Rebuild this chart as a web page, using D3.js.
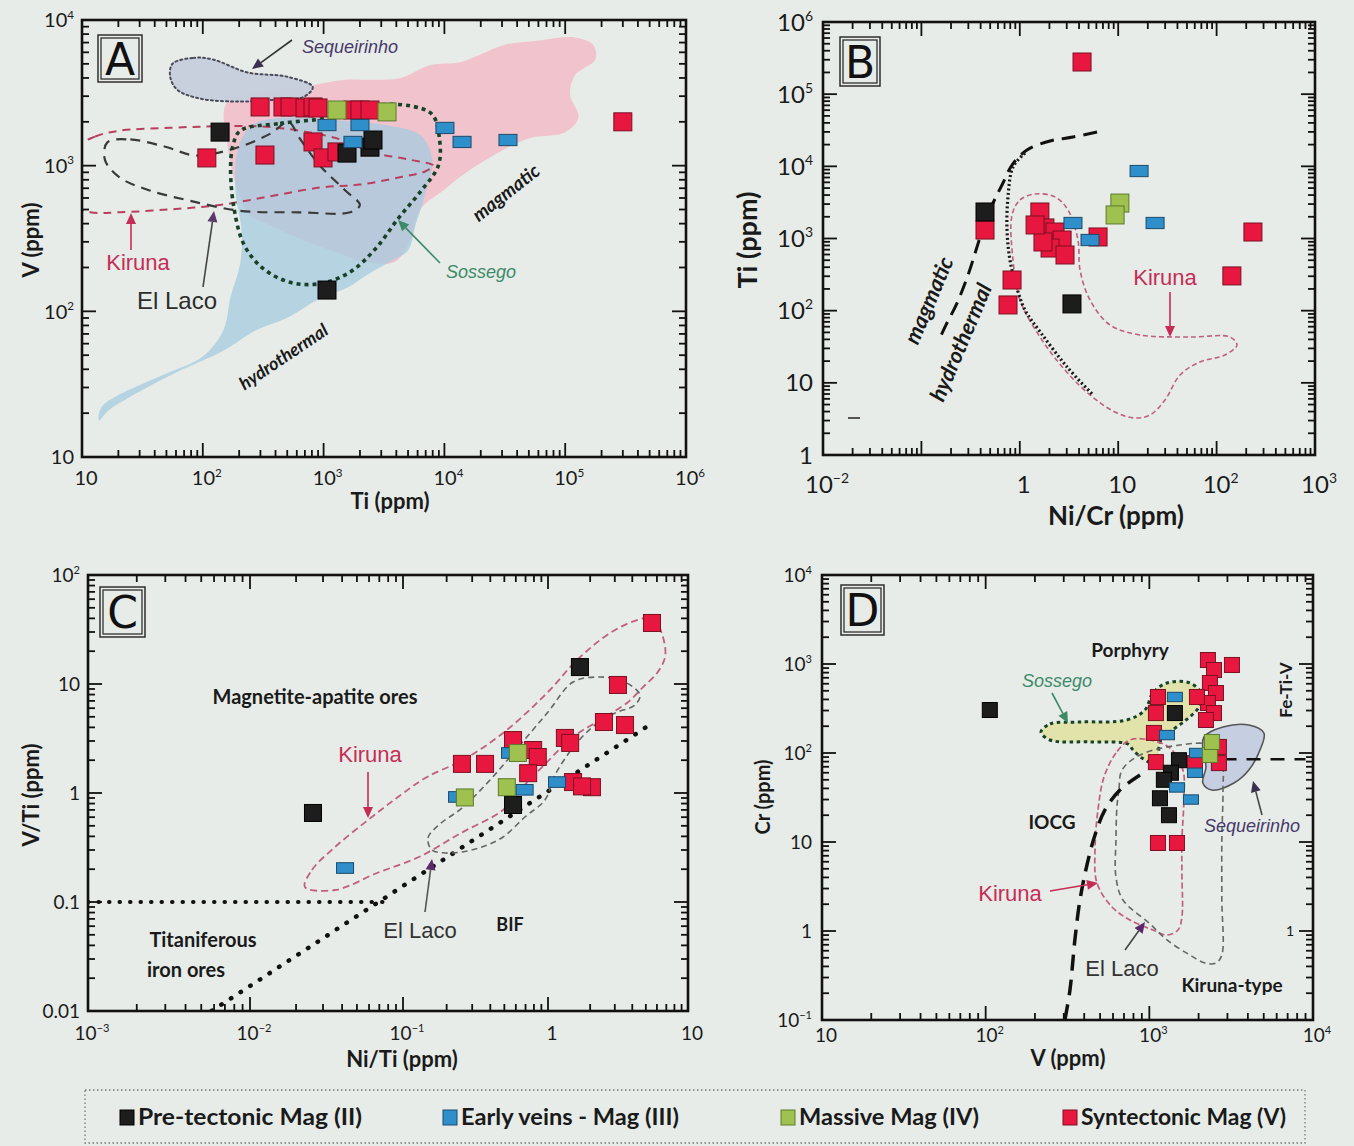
<!DOCTYPE html>
<html><head><meta charset="utf-8">
<script src="https://cdn.jsdelivr.net/npm/d3@7"></script>
<style>body{margin:0;background:#e8ede9;} svg{display:block}</style>
</head><body><svg id="c" width="1354" height="1146"></svg>
<script>
// ================= DATA =================
// Panel A : V (ppm) vs Ti (ppm)
const aBlack = [[139,1700],[1563,1220],[2421,1340],[2564,1500],[1067,140]];
const aBlue  = [[1067,1900],[2000,1900],[1750,1455],[10100,1815],[14000,1455],[33600,1500]];
const aGreen = [[1290,2410],[3350,2340]];
const aRed   = [[108,1130],[327,1183],[298,2530],[461,2530],[527,2530],[702,2490],[817,2530],[899,2490],[1750,2410],[2000,2410],[2421,2410],[817,1455],[989,1130],[1290,1242],[300000,2000]];
// fields / outlines (log10 Ti, log10 V)
const aMagmaticField = [[2.19,3.42],[2.35,3.49],[2.60,3.52],[2.89,3.55],[3.18,3.59],[3.43,3.59],[3.63,3.60],[3.88,3.69],[4.13,3.71],[4.29,3.76],[4.50,3.83],[4.79,3.86],[5.08,3.88],[5.23,3.83],[5.25,3.73],[5.08,3.62],[5.04,3.49],[5.11,3.33],[5.00,3.23],[4.71,3.19],[4.49,3.11],[4.21,2.97],[3.99,2.83],[3.80,2.70],[3.72,2.49],[3.59,2.34],[3.34,2.34],[3.09,2.41],[2.80,2.50],[2.56,2.59],[2.39,2.66],[2.29,2.83],[2.21,3.11]];
const aHydrothermalField = [[1.14,1.25],[1.16,1.34],[1.29,1.42],[1.66,1.56],[2.00,1.69],[2.17,1.87],[2.23,2.10],[2.31,2.33],[2.32,2.56],[2.27,2.83],[2.29,3.11],[2.41,3.28],[2.72,3.33],[3.14,3.31],[3.51,3.28],[3.80,3.21],[3.90,3.04],[3.84,2.80],[3.76,2.59],[3.70,2.42],[3.55,2.34],[3.38,2.26],[3.19,2.16],[2.95,2.08],[2.71,1.96],[2.44,1.87],[2.17,1.73],[1.83,1.60],[1.50,1.46],[1.22,1.32]];
const aSequeirinho = [[1.75,3.70],[1.92,3.74],[2.08,3.73],[2.37,3.64],[2.70,3.61],[2.91,3.54],[2.83,3.47],[2.53,3.45],[2.31,3.44],[1.98,3.46],[1.79,3.52],[1.73,3.61]];
const aSossego = [[2.31,3.24],[2.64,3.29],[3.05,3.33],[3.38,3.41],[3.72,3.41],[3.90,3.35],[3.96,3.18],[3.95,3.00],[3.80,2.82],[3.62,2.64],[3.43,2.43],[3.22,2.27],[2.97,2.19],[2.72,2.20],[2.49,2.30],[2.34,2.46],[2.26,2.70],[2.23,2.97],[2.25,3.14]];
const aKiruna = [[0.94,3.11],[1.11,3.20],[1.31,3.24],[1.73,3.26],[2.10,3.27],[2.47,3.27],[2.80,3.24],[3.14,3.18],[3.41,3.09],[3.72,3.04],[3.91,3.00],[3.84,2.96],[3.63,2.92],[3.30,2.87],[2.97,2.85],[2.56,2.79],[2.14,2.73],[1.73,2.70],[1.31,2.68],[1.07,2.68],[0.94,2.73]];
const aElLaco = [[1.21,3.16],[1.40,3.18],[1.69,3.13],[1.94,3.07],[2.27,3.12],[2.56,3.22],[2.71,3.30],[2.80,3.19],[2.97,3.00],[3.18,2.83],[3.30,2.73],[3.22,2.68],[2.80,2.68],[2.31,2.69],[1.89,2.76],[1.56,2.83],[1.31,2.92],[1.19,3.04]];
const aXTicks = [10,1e2,1e3,1e4,1e5,1e6], aXLabels = ["10","10^2","10^3","10^4","10^5","10^6"];
const aYTicks = [10,1e2,1e3,1e4], aYLabels = ["10","10^2","10^3","10^4"];

// Panel B : Ti (ppm) vs Ni/Cr
const bBlack = [[0.443,2330],[3.39,124]];
const bBlue  = [[16.3,8610],[23.7,1640],[3.47,1640],[5.17,953]];
const bGreen = [[10.4,3100],[9.3,2120]];
const bRed   = [[4.29,279000],[234,1230],[143,303],[6.24,1050],[0.443,1310],[0.834,266],[0.759,120],[1.60,2330],[1.80,1400],[2.28,1230],[2.69,953],[2.03,738],[2.88,591],[1.72,895],[1.43,1540]];
const bMagmaticLine = [[0.785,4.476],[0.541,4.406],[0.307,4.351],[0.073,4.226],[-0.079,4.018],[-0.181,3.741],[-0.272,3.492],[-0.354,3.229],[-0.435,2.882],[-0.526,2.494],[-0.638,2.106],[-0.750,1.802],[-0.831,1.566]];
const bHydroLine = [[0.053,4.185],[-0.069,3.991],[-0.120,3.575],[-0.130,3.118],[-0.100,2.702],[-0.039,2.356],[0.053,2.009],[0.215,1.691],[0.480,1.220],[0.744,0.832]];
const bKiruna = [[-0.079,3.326],[0.002,3.534],[0.154,3.617],[0.358,3.575],[0.490,3.395],[0.591,2.979],[0.612,2.564],[0.713,2.148],[0.917,1.802],[1.222,1.663],[1.730,1.635],[2.136,1.635],[2.207,1.524],[2.085,1.386],[1.831,1.289],[1.628,1.109],[1.476,0.762],[1.323,0.554],[1.171,0.513],[0.967,0.596],[0.713,0.832],[0.459,1.178],[0.205,1.635],[0.002,2.148],[-0.069,2.702]];
const bXTicks = [0.01,1,10,100,1000], bXLabels = ["10^-2","1","10","10^2","10^3"];
const bYTicks = [1,10,1e2,1e3,1e4,1e5,1e6], bYLabels = ["1","10","10^2","10^3","10^4","10^5","10^6"];

// Panel C : V/Ti vs Ni/Ti
const cBlack = [[1.69,14.3],[0.574,0.776],[0.0258,0.656]];
const cBlue  = [[0.236,0.92],[0.0418,0.205],[0.69,1.07],[1.16,1.26],[0.547,2.33]];
const cGreen = [[0.267,0.91],[0.62,2.33],[0.52,1.13]];
const cRed   = [[5.53,36.3],[3.16,9.8],[2.51,4.48],[3.55,4.2],[1.32,3.2],[1.44,2.88],[0.574,3.06],[0.79,2.48],[0.85,2.14],[0.73,1.52],[0.255,1.85],[0.368,1.85],[1.51,1.26],[2.06,1.13],[1.75,1.15]];
const cBifLine = [[0.0058,0.01],[5.3,4.2]];
const cTitanLine = [[0.001,0.1],[0.079,0.1]];
const cKiruna = [[-1.641,-0.862],[-1.595,-0.706],[-1.444,-0.495],[-1.229,-0.248],[-1.033,-0.037],[-0.834,0.147],[-0.586,0.303],[-0.310,0.550],[-0.007,0.917],[0.207,1.220],[0.443,1.468],[0.636,1.587],[0.750,1.606],[0.821,1.431],[0.836,1.248],[0.779,1.101],[0.679,0.972],[0.564,0.826],[0.371,0.670],[0.179,0.514],[-0.007,0.284],[-0.193,0.028],[-0.310,-0.156],[-0.600,-0.367],[-0.890,-0.587],[-1.170,-0.734],[-1.444,-0.890]];
const cElLaco = [[-0.800,-0.523],[-0.828,-0.413],[-0.745,-0.284],[-0.593,-0.138],[-0.400,0.119],[-0.193,0.440],[0.000,0.743],[0.179,1.018],[0.371,1.064],[0.550,1.018],[0.657,0.899],[0.621,0.807],[0.479,0.734],[0.336,0.624],[0.193,0.440],[0.050,0.165],[-0.021,-0.064],[-0.159,-0.220],[-0.310,-0.404],[-0.455,-0.495],[-0.593,-0.541],[-0.710,-0.550]];
const cXTicks = [0.001,0.01,0.1,1,10], cXLabels = ["10^-3","10^-2","10^-1","1","10"];
const cYTicks = [0.01,0.1,1,10,100], cYLabels = ["0.01","0.1","1","10","10^2"];

// Panel D : Cr (ppm) vs V (ppm)
const dBlack = [[106,304],[1433,281],[1517,83],[1355,60],[1227,50],[1161,31],[1318,20]];
const dBlue  = [[1433,426],[1282,159],[1954,100],[1900,60],[1796,30],[1475,41]];
const dGreen = [[2345,95],[2411,133]];
const dRed   = [[2280,1109],[3197,975],[2483,856],[2345,612],[2553,472],[2280,365],[2483,281],[2218,235],[1954,426],[1129,426],[1097,281],[1067,168],[1097,79],[2661,117],[2661,77],[1900,77],[1129,9.75],[1475,9.75]];
const dSossego = [[2.338,2.236],[2.393,2.326],[2.576,2.348],[2.863,2.371],[2.973,2.483],[3.022,2.674],[3.108,2.787],[3.248,2.787],[3.315,2.674],[3.303,2.517],[3.224,2.371],[3.126,2.236],[3.065,2.124],[3.053,1.978],[3.022,1.888],[2.955,1.944],[2.900,2.034],[2.869,2.101],[2.637,2.124],[2.393,2.146]];
const dSequeirinho = [[3.334,2.180],[3.450,2.292],[3.608,2.315],[3.700,2.225],[3.676,2.034],[3.608,1.809],[3.517,1.663],[3.382,1.584],[3.327,1.663],[3.346,1.843],[3.327,2.034]];
const dKiruna = [[2.881,2.146],[2.796,2.000],[2.723,1.730],[2.686,1.360],[2.668,0.910],[2.680,0.539],[2.772,0.270],[2.881,0.124],[3.022,0.011],[3.108,-0.045],[3.175,0.011],[3.199,0.157],[3.199,0.652],[3.199,1.022],[3.211,1.472],[3.205,1.809],[3.126,2.056],[3.004,2.146]];
const dElLaco = [[2.833,1.809],[2.814,1.584],[2.802,1.393],[2.796,1.022],[2.796,0.607],[2.839,0.348],[2.998,0.090],[3.108,-0.101],[3.248,-0.270],[3.340,-0.360],[3.407,-0.360],[3.443,-0.270],[3.443,0.348],[3.443,1.022],[3.450,1.584],[3.443,1.921],[3.370,2.090],[3.187,2.090],[2.943,1.978]];
const dIocgLine = [[2.484,-1.0],[2.515,-0.663],[2.545,-0.101],[2.576,0.348],[2.619,0.742],[2.668,1.079],[2.729,1.360],[2.820,1.584],[2.943,1.753]];
const dFeTiVLine = [[2800,85],[9000,85]];
const dXTicks = [10,100,1e3,1e4], dXLabels = ["10","10^2","10^3","10^4"];
const dYTicks = [0.1,1,10,100,1e3,1e4], dYLabels = ["10^-1","1","10","10^2","10^3","10^4"];

const legendItems = ["Pre-tectonic Mag (II)","Early veins - Mag (III)","Massive Mag (IV)","Syntectonic Mag (V)"];

// ================= DRAWING =================
const svg = d3.select("#c");
const BG = "#e7ece8";
svg.append("rect").attr("width",1354).attr("height",1146).attr("fill",BG);
const defs = svg.append("defs");
const TICKF = "Lato, 'Open Sans', sans-serif";
const ARIAL = "'Liberation Sans', Arial, sans-serif";
const COL = {
  black:{f:"#1d1d1d",s:"#000"}, blue:{f:"#2f8fcb",s:"#1b4a6a"},
  green:{f:"#9ec14f",s:"#5d7a2b"}, red:{f:"#e8173f",s:"#7c1022"}
};
const KIR = "#c62d55";

function sup(t, str, fs){
  const parts = str.split("^");
  t.append("tspan").text(parts[0]);
  if(parts.length>1){
    t.append("tspan").attr("dy",-fs*0.42).attr("font-size",fs*0.58).text(parts[1].replace("-","\u2212"));
  }
}
function logTicks(scale){
  const d = scale.domain(), lo=d[0], hi=d[d.length-1];
  const out=[];
  for(let k=Math.floor(Math.log10(lo)); k<=Math.ceil(Math.log10(hi)); k++){
    for(let m=1;m<=9;m++){ const v=m*Math.pow(10,k); if(v>=lo*0.999 && v<=hi*1.001) out.push({v,major:m===1}); }
  }
  return out;
}
function txt(g,x,y,s,o={}){
  const t=g.append("text").attr("x",0).attr("y",0)
    .attr("transform",`translate(${x},${y})`+(o.rot?` rotate(${o.rot})`:""))
    .attr("text-anchor",o.anchor||"middle").attr("dominant-baseline",o.base||"auto")
    .attr("font-family",o.family||TICKF).attr("font-size",o.size||20)
    .attr("font-weight",o.weight||"normal").attr("font-style",o.style||"normal")
    .attr("fill",o.fill||"#1a1a1a").text(s);
  if(o.len) t.attr("textLength",o.len).attr("lengthAdjust","spacingAndGlyphs");
  return t;
}
function arrow(g,x1,y1,x2,y2,color,head){
  const a=Math.atan2(y2-y1,x2-x1), L=11, W=5;
  const bx=x2-L*Math.cos(a), by=y2-L*Math.sin(a);
  g.append("line").attr("x1",x1).attr("y1",y1).attr("x2",bx).attr("y2",by).attr("stroke",color).attr("stroke-width",1.6);
  const p=[[x2,y2],[bx+W*Math.sin(a),by-W*Math.cos(a)],[bx-W*Math.sin(a),by+W*Math.cos(a)]];
  g.append("path").attr("d","M"+p.map(q=>q.join(",")).join("L")+"Z").attr("fill",head||color);
}
function panel(id, xs, ys, cfg){
  const g = svg.append("g").attr("id",id);
  const xr=xs.range(), yr=ys.range();
  const x0=xr[0], x1=xr[xr.length-1], yb=yr[0], yt=yr[yr.length-1];
  defs.append("clipPath").attr("id","clip"+id).append("rect").attr("x",x0).attr("y",yt).attr("width",x1-x0).attr("height",yb-yt);
  const inner = g.append("g").attr("clip-path",`url(#clip${id})`);
  const ticks = g.append("g");
  const L=cfg.major||14, l=cfg.minor||7;
  logTicks(xs).forEach(t=>{
    const x=xs(t.v), len=t.major?L:l;
    ticks.append("line").attr("x1",x).attr("x2",x).attr("y1",yb).attr("y2",yb-len);
    ticks.append("line").attr("x1",x).attr("x2",x).attr("y1",yt).attr("y2",yt+len);
  });
  logTicks(ys).forEach(t=>{
    const y=ys(t.v), len=t.major?L:l;
    ticks.append("line").attr("y1",y).attr("y2",y).attr("x1",x0).attr("x2",x0+len);
    ticks.append("line").attr("y1",y).attr("y2",y).attr("x1",x1).attr("x2",x1-len);
  });
  ticks.selectAll("line").attr("stroke","#111").attr("stroke-width",1.8);
  g.append("rect").attr("x",x0).attr("y",yt).attr("width",x1-x0).attr("height",yb-yt)
    .attr("fill","none").attr("stroke","#111").attr("stroke-width",2.6);
  const fs=cfg.fs;
  cfg.xTicks.forEach((v,i)=>{
    const t=g.append("text").attr("x",xs(v)+(cfg.xdx||0)).attr("y",cfg.xLabelY).attr("text-anchor","middle")
      .attr("font-family",TICKF).attr("font-size",fs).attr("fill","#1a1a1a");
    sup(t,cfg.xLabels[i],fs);
  });
  cfg.yTicks.forEach((v,i)=>{
    const t=g.append("text").attr("x",cfg.yLabelX).attr("y",ys(v)+fs*0.36).attr("text-anchor","end")
      .attr("font-family",TICKF).attr("font-size",fs).attr("fill","#1a1a1a");
    sup(t,cfg.yLabels[i],fs);
  });
  const b=cfg.box;
  g.append("rect").attr("x",b[0]).attr("y",b[1]).attr("width",b[2]).attr("height",b[3]).attr("fill","none").attr("stroke","#222").attr("stroke-width",1.4);
  g.append("rect").attr("x",b[0]+3).attr("y",b[1]+3).attr("width",b[2]-6).attr("height",b[3]-6).attr("fill","none").attr("stroke","#222").attr("stroke-width",1.2);
  txt(g,b[0]+b[2]/2,b[1]+b[3]/2+16,id,{family:"'DejaVu Sans', sans-serif",size:44,fill:"#111"});
  return {g, inner, xs, ys};
}
function logPts(P, arr){ return arr.map(d=>[P.xs(Math.pow(10,d[0])), P.ys(Math.pow(10,d[1]))]); }
const closedLine = d3.line().curve(d3.curveCatmullRomClosed.alpha(0.5));
const openLine = d3.line().curve(d3.curveCatmullRom.alpha(0.5));
function shape(P, arr, st){
  return P.inner.append("path").attr("d",closedLine(logPts(P,arr)))
    .attr("fill",st.fill||"none").attr("fill-opacity",st.fo==null?1:st.fo)
    .attr("stroke",st.stroke||"none").attr("stroke-width",st.sw||1.5)
    .attr("stroke-dasharray",st.dash||null).attr("stroke-linecap",st.cap||"butt");
}
function openPath(P, pts, st){
  return P.inner.append("path").attr("d",openLine(pts))
    .attr("fill","none").attr("stroke",st.stroke).attr("stroke-width",st.sw)
    .attr("stroke-dasharray",st.dash||null).attr("stroke-linecap",st.cap||"butt");
}
function points(P, data, kind, s){
  const c=COL[kind];
  const w = s*2, h = kind==="blue" ? s*1.25 : s*2;
  P.g.append("g").selectAll("rect").data(data).join("rect")
    .attr("x",d=>P.xs(d[0])-w/2).attr("y",d=>P.ys(d[1])-h/2)
    .attr("width",w).attr("height",h).attr("fill",c.f).attr("stroke",c.s).attr("stroke-width",1);
}
function allPoints(P, r, k, b, gr, s){
  points(P,r,"red",s); points(P,k,"black",s); points(P,b,"blue",s); points(P,gr,"green",s);
}

// ---------- Panel A ----------
const A = panel("A",
  d3.scaleLog().domain([10,1e6]).range([82,686]),
  d3.scaleLog().domain([10,1e4]).range([457,20]),
  {fs:20, xTicks:aXTicks, xLabels:aXLabels, yTicks:aYTicks, yLabels:aYLabels, xLabelY:485, yLabelX:74, box:[98,35,44,47], xdx:4});
shape(A, aMagmaticField, {fill:"#f1c3cd"});
shape(A, aHydrothermalField, {fill:"#a5cbe0", fo:0.75});
shape(A, aSequeirinho, {fill:"#c5cfdb", fo:0.95, stroke:"#4a4a5a", sw:2, dash:"2,3", cap:"round"});
shape(A, aKiruna, {stroke:"#b8405e", sw:2, dash:"8,6"});
shape(A, aElLaco, {stroke:"#3a3a3a", sw:2.2, dash:"10,7"});
shape(A, aSossego, {stroke:"#174228", sw:3.6, dash:"4,4"});
allPoints(A, aRed, aBlack, aBlue, aGreen, 9);
txt(A.g,350,53,"Sequeirinho",{family:ARIAL,style:"italic",size:18,fill:"#46396a"});
arrow(A.g,292,40,252,69,"#333","#3c3050");
txt(A.g,510,198,"magmatic",{family:TICKF,weight:"bold",style:"italic",size:19,rot:-38});
txt(A.g,287,362,"hydrothermal",{family:TICKF,weight:"bold",style:"italic",size:18,rot:-34});
txt(A.g,138,270,"Kiruna",{family:ARIAL,size:22,fill:KIR});
arrow(A.g,131,250,131,213,KIR);
txt(A.g,177,309,"El Laco",{family:ARIAL,size:24,fill:"#2c2c2c"});
arrow(A.g,203,287,214,211,"#444","#5a3a6a");
txt(A.g,481,278,"Sossego",{family:ARIAL,style:"italic",size:18,fill:"#3d8a68"});
arrow(A.g,440,263,398,220,"#3d8a68");
txt(A.g,30,240,"V (ppm)",{weight:"bold",size:22,rot:-90,base:"central"});
txt(A.g,390,509,"Ti (ppm)",{weight:"bold",size:22});

// ---------- Panel B ----------
const B = panel("B",
  d3.scaleLog().domain([0.01,1000]).range([823,1315]),
  d3.scaleLog().domain([1,1e6]).range([455,22]),
  {fs:24, xTicks:bXTicks, xLabels:bXLabels, yTicks:bYTicks, yLabels:bYLabels, xLabelY:493, yLabelX:813, box:[840,37,40,49], xdx:4});
shape(B, bKiruna, {stroke:"#c0607e", sw:1.6, dash:"5,3"});
openPath(B, logPts(B,bMagmaticLine), {stroke:"#111", sw:3, dash:"14,8"});
openPath(B, logPts(B,bHydroLine), {stroke:"#1a1a1a", sw:3.2, dash:"2,2.5"});
allPoints(B, bRed, bBlack, bBlue, bGreen, 9);
txt(B.g,928,300,"magmatic",{weight:"bold",style:"italic",size:22,rot:-67,base:"central"});
txt(B.g,960,342,"hydrothermal",{weight:"bold",style:"italic",size:22,rot:-67,base:"central"});
txt(B.g,1165,285,"Kiruna",{family:ARIAL,size:22,fill:KIR});
arrow(B.g,1170,292,1170,337,KIR);
B.g.append("line").attr("x1",848).attr("x2",860).attr("y1",418).attr("y2",418).attr("stroke","#222").attr("stroke-width",1.5);
txt(B.g,746,240,"Ti (ppm)",{weight:"bold",size:27,rot:-90,base:"central"});
txt(B.g,1116,525,"Ni/Cr (ppm)",{weight:"bold",size:26});

// ---------- Panel C ----------
const C = panel("C",
  d3.scaleLog().domain([0.001,0.01,0.1,1,10]).range([88,250,403,548,688]),
  d3.scaleLog().domain([0.01,100]).range([1011,575]),
  {fs:19, xTicks:cXTicks, xLabels:cXLabels, yTicks:cYTicks, yLabels:cYLabels, xLabelY:1040, yLabelX:80, box:[100,587,45,50], xdx:4});
openPath(C, cTitanLine.map(d=>[C.xs(d[0]),C.ys(d[1])]), {stroke:"#111", sw:4, dash:"0.5,10", cap:"round"});
openPath(C, cBifLine.map(d=>[C.xs(d[0]),C.ys(d[1])]), {stroke:"#111", sw:4.5, dash:"0.5,11", cap:"round"});
shape(C, cKiruna, {stroke:"#c0607e", sw:1.8, dash:"7,4"});
shape(C, cElLaco, {stroke:"#666", sw:1.6, dash:"6,4"});
allPoints(C, cRed, cBlack, cBlue, cGreen, 8.5);
txt(C.g,315,704,"Magnetite-apatite ores",{weight:"bold",size:20});
txt(C.g,370,762,"Kiruna",{family:ARIAL,size:22,fill:KIR});
arrow(C.g,368,772,368,818,KIR);
txt(C.g,420,938,"El Laco",{family:ARIAL,size:22,fill:"#333"});
arrow(C.g,425,912,432,859,"#555","#5a2a6a");
txt(C.g,510,931,"BIF",{weight:"bold",size:18});
txt(C.g,203,947,"Titaniferous",{weight:"bold",size:20});
txt(C.g,186,977,"iron ores",{weight:"bold",size:20});
txt(C.g,30,795,"V/Ti (ppm)",{weight:"bold",size:22,rot:-90,base:"central"});
txt(C.g,402,1067,"Ni/Ti (ppm)",{weight:"bold",size:22});

// ---------- Panel D ----------
const D = panel("D",
  d3.scaleLog().domain([10,1e4]).range([822,1313]),
  d3.scaleLog().domain([0.1,1e4]).range([1020,575]),
  {fs:19, xTicks:dXTicks, xLabels:dXLabels, yTicks:dYTicks, yLabels:dYLabels, xLabelY:1042, yLabelX:812, box:[841,585,43,50], xdx:4});
shape(D, dSossego, {fill:"#e0e3a6", fo:0.95, stroke:"#174228", sw:3, dash:"3.5,3.5"});
shape(D, dSequeirinho, {fill:"#c3cde0", fo:0.95, stroke:"#555", sw:1.6});
shape(D, dKiruna, {stroke:"#c0607e", sw:1.7, dash:"6,3"});
shape(D, dElLaco, {stroke:"#666", sw:1.6, dash:"6,4"});
openPath(D, logPts(D,dIocgLine), {stroke:"#111", sw:3.5, dash:"16,9"});
openPath(D, dFeTiVLine.map(d=>[D.xs(d[0]),D.ys(d[1])]), {stroke:"#111", sw:2.5, dash:"14,10"});
allPoints(D, dRed, dBlack, dBlue, dGreen, 7.5);
txt(D.g,1130,657,"Porphyry",{weight:"bold",size:19});
txt(D.g,1057,687,"Sossego",{family:ARIAL,style:"italic",size:18,fill:"#3d8a68"});
arrow(D.g,1052,693,1068,723,"#3d8a68");
txt(D.g,1285,690,"Fe-Ti-V",{weight:"bold",size:17,rot:-90,base:"central"});
txt(D.g,1052,829,"IOCG",{weight:"bold",size:19});
txt(D.g,1010,901,"Kiruna",{family:ARIAL,size:22,fill:KIR});
arrow(D.g,1050,891,1098,883,KIR);
txt(D.g,1122,976,"El Laco",{family:ARIAL,size:22,fill:"#333"});
arrow(D.g,1125,950,1145,922,"#444","#5a2a6a");
txt(D.g,1232,992,"Kiruna-type",{weight:"bold",size:19});
txt(D.g,1252,832,"Sequeirinho",{family:ARIAL,style:"italic",size:18,fill:"#46396a"});
arrow(D.g,1262,815,1253,781,"#444","#3c3050");
txt(D.g,1290,936,"1",{size:14});
txt(D.g,762,797,"Cr (ppm)",{weight:"bold",size:20,rot:-90,base:"central"});
txt(D.g,1068,1066,"V (ppm)",{weight:"bold",size:22});

// ---------- Legend ----------
const lg = svg.append("g");
lg.append("rect").attr("x",85).attr("y",1090).attr("width",1220).attr("height",53)
  .attr("fill","none").attr("stroke","#777").attr("stroke-width",1.3).attr("stroke-dasharray","1.5,2.5");
const legX = [120,443,781,1063], legK = ["black","blue","green","red"], legW = [224,218,180,205];
legendItems.forEach((s,i)=>{
  lg.append("rect").attr("x",legX[i]).attr("y",1110).attr("width",14).attr("height",15)
    .attr("fill",COL[legK[i]].f).attr("stroke",COL[legK[i]].s).attr("stroke-width",1);
  txt(lg,legX[i]+18,1125,s,{anchor:"start",weight:"bold",size:22,len:legW[i]});
});
</script></body></html>
